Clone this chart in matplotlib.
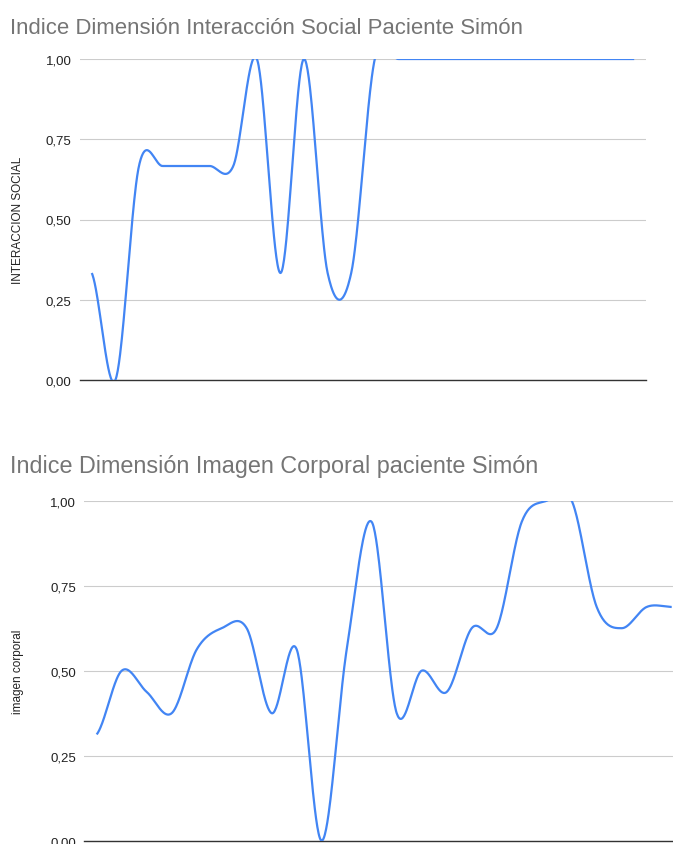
import numpy as np
import matplotlib
matplotlib.use("Agg")
import matplotlib.pyplot as plt
from matplotlib.ticker import FuncFormatter

plt.rcParams['font.family'] = ['Liberation Sans', 'DejaVu Sans']

# ---------------- data ----------------
sesiones = list(range(1, 25))
interaccion_social = [1/3, 0, 2/3, 2/3, 2/3, 2/3, 2/3, 1, 1/3, 1, 1/3, 1/3,
                      1, 1, 1, 1, 1, 1, 1, 1, 1, 1, 1, 1]
imagen_corporal = [0.3125, 0.5, 0.4375, 0.375, 0.5625, 0.625, 0.625, 0.375,
                   0.5625, 0.0, 0.5625, 0.9375, 0.375, 0.5, 0.4375, 0.625,
                   0.625, 0.9375, 1.0, 1.0, 0.6875, 0.625, 0.6875, 0.6875]
y_ticks = [0, 0.25, 0.5, 0.75, 1.0]

title_top = "Indice Dimensión Interacción Social Paciente Simón"
title_bot = "Indice Dimensión Imagen Corporal paciente Simón"
ylabel_top = "INTERACCION SOCIAL"
ylabel_bot = "imagen corporal"

LINE = "#4285F4"


def smooth(x, y, n=40):
    """Catmull-Rom curve through the points (like the 'smooth' line option)."""
    x = np.asarray(x, float)
    y = np.asarray(y, float)
    m = np.empty_like(y)
    m[1:-1] = (y[2:] - y[:-2]) / 2
    m[0] = (y[1] - y[0]) / 2
    m[-1] = (y[-1] - y[-2]) / 2
    xs, ys = [], []
    t = np.linspace(0, 1, n, endpoint=False)
    h00 = 2 * t**3 - 3 * t**2 + 1
    h10 = t**3 - 2 * t**2 + t
    h01 = -2 * t**3 + 3 * t**2
    h11 = t**3 - t**2
    for i in range(len(y) - 1):
        xs.append(x[i] + t * (x[i + 1] - x[i]))
        ys.append(h00 * y[i] + h10 * m[i] + h01 * y[i + 1] + h11 * m[i + 1])
    xs.append([x[-1]])
    ys.append([y[-1]])
    return np.concatenate(xs), np.concatenate(ys)


W, H = 673, 845
fig = plt.figure(figsize=(W / 100, H / 100), dpi=100)
fig.patch.set_facecolor("white")


def make_axes(rect_px, values, title, title_base_y, title_size, ylabel):
    l, t, r, b = rect_px
    ax = fig.add_axes([l / W, 1 - b / H, (r - l) / W, (b - t) / H])
    xs, ys = smooth(range(len(values)), values)
    ax.plot(xs, ys, color=LINE, lw=1.6, solid_capstyle="butt", zorder=3)
    ax.set_xlim(-0.5, len(values) - 0.5)
    ax.set_ylim(0, 1)
    ax.set_yticks(y_ticks)
    ax.yaxis.set_major_formatter(FuncFormatter(lambda v, p: f"{v:.2f}".replace(".", ",")))
    ax.set_xticks([])
    for s in ax.spines.values():
        s.set_visible(False)
    ax.grid(axis="y", color="#cccccc", lw=0.8, zorder=0)
    ax.axhline(0, color="#333333", lw=1.0, zorder=2, clip_on=False)
    ax.tick_params(axis="y", length=0, pad=6, labelsize=9.5, labelcolor="#222222")
    fig.text(10.5 / W, 1 - title_base_y / H, title, fontsize=title_size, color="#757575",
             ha="left", va="baseline")
    fig.text(18 / W, 1 - ((t + b) / 2) / H, ylabel, rotation=90, fontsize=8.5,
             color="#222222", ha="center", va="center")
    return ax


make_axes((80, 60, 646, 381), interaccion_social, title_top, 34, 15.95, ylabel_top)
make_axes((84.2, 501.7, 684.2, 841.7), imagen_corporal, title_bot, 473.5, 16.8, ylabel_bot)

fig.savefig("out.png", dpi=100, facecolor="white")
